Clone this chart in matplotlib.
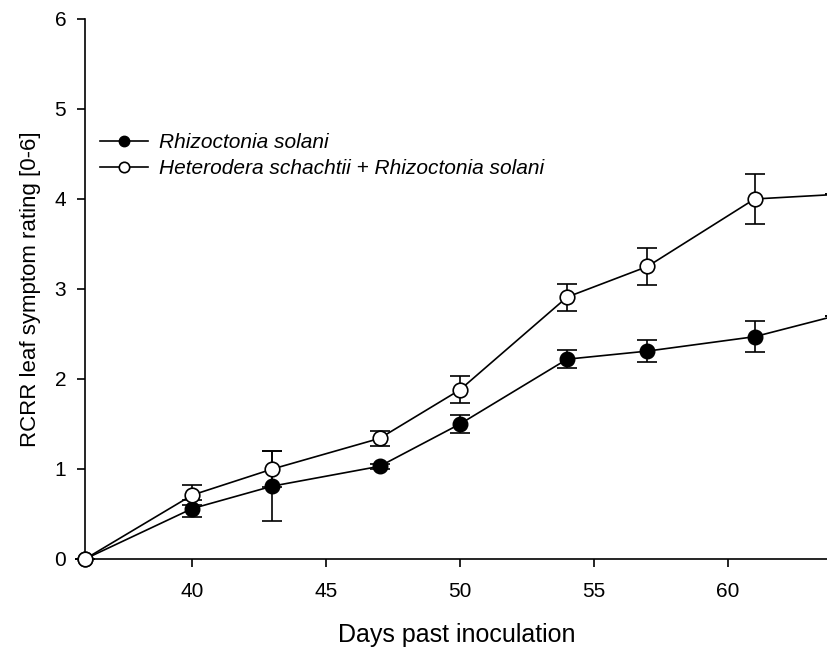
import matplotlib.pyplot as plt
from matplotlib.lines import Line2D

plt.rcParams['font.family'] = ['Liberation Sans', 'DejaVu Sans']

days = [36, 40, 43, 47, 50, 54, 57, 61, 64]

rs_mean = [0, 0.56, 0.81, 1.03, 1.50, 2.22, 2.31, 2.47, 2.70]
rs_err = [0, 0.09, 0.39, 0.03, 0.10, 0.10, 0.12, 0.17, 0]

hs_rs_mean = [0, 0.71, 1.00, 1.34, 1.88, 2.91, 3.25, 4.00, 4.05]
hs_rs_err = [0, 0.11, 0.20, 0.08, 0.15, 0.15, 0.21, 0.28, 0]

labels = ['Rhizoctonia solani', 'Heterodera schachtii + Rhizoctonia solani']

fig = plt.figure(figsize=(8.27, 6.5), dpi=100)
ax = fig.add_axes([0.1028, 0.14, 0.9, 0.8308])

ax.errorbar(days, rs_mean, yerr=rs_err, color='black', marker='o', markersize=10.5,
            markerfacecolor='black', markeredgecolor='black', linewidth=1.2,
            elinewidth=1.2, capsize=7, capthick=1.2, clip_on=False, zorder=3)
ax.errorbar(days, hs_rs_mean, yerr=hs_rs_err, color='black', marker='o', markersize=10.5,
            markerfacecolor='white', markeredgecolor='black', markeredgewidth=1.2,
            linewidth=1.2, elinewidth=1.2, capsize=7, capthick=1.2, clip_on=False,
            zorder=4)

ax.set_xlim(36, 63.79)
ax.set_ylim(0, 6)
ax.set_xticks([40, 45, 50, 55, 60])
ax.set_yticks(range(0, 7))
ax.tick_params(direction='out', length=5.5, width=1.2, labelsize=15)
ax.tick_params(axis='x', pad=11)
ax.tick_params(axis='y', pad=8)

for side in ['top', 'right']:
    ax.spines[side].set_visible(False)
for side in ['left', 'bottom']:
    ax.spines[side].set_linewidth(1.2)

ax.set_xlabel('Days past inoculation', fontsize=18, labelpad=16)
ax.set_ylabel('RCRR leaf symptom rating [0-6]', fontsize=16, labelpad=10)

handles = [
    Line2D([], [], color='black', linewidth=1.2, marker='o', markersize=7.5,
           markerfacecolor='black', markeredgecolor='black'),
    Line2D([], [], color='black', linewidth=1.2, marker='o', markersize=7.5,
           markerfacecolor='white', markeredgecolor='black', markeredgewidth=1.2),
]
leg = ax.legend(handles, labels, loc='upper left', bbox_to_anchor=(0.0, 0.816),
                frameon=False, fontsize=15, handlelength=2.3, handletextpad=0.55,
                labelspacing=0.35, borderaxespad=0.3)
for t in leg.get_texts():
    t.set_fontstyle('italic')

fig.savefig('out.png', dpi=100)
